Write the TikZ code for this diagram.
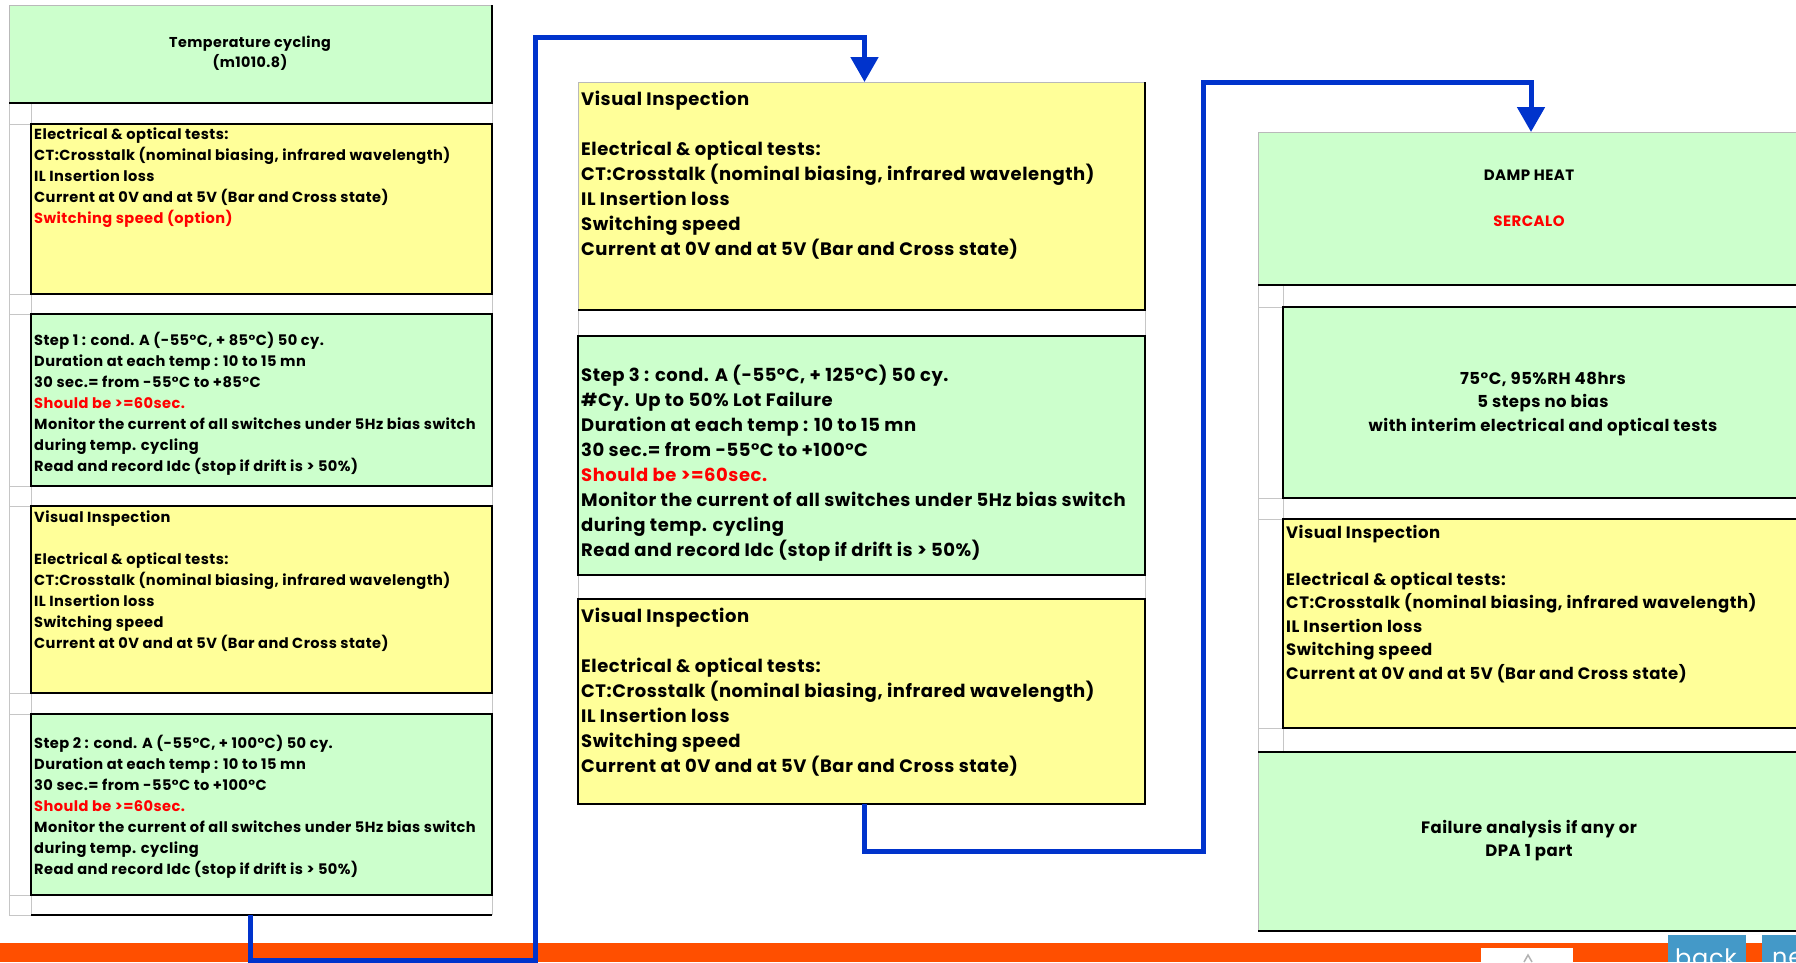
\documentclass[tikz,border=0pt]{standalone}
\usepackage{fontspec}
\setmainfont{Poppins}[LetterSpace=3]
\usepackage{xcolor}
\usetikzlibrary{arrows.meta,positioning,calc}

\definecolor{testgreen}{HTML}{CCFFCC}
\definecolor{testyellow}{HTML}{FFFF99}
\definecolor{alertred}{HTML}{FF0000}
\definecolor{linkblue}{HTML}{0033CC}
\definecolor{barorange}{HTML}{FF4F00}
\definecolor{navblue}{HTML}{4499C8}

\tikzset{
  grid/.style={draw=gray!45, line width=0.8pt},
  cell/.style={draw=gray!55, line width=0.8pt, anchor=north west, inner sep=0pt, outer sep=0pt},
  grn/.style={cell, fill=testgreen},
  ylw/.style={cell, fill=testyellow},
  inbox/.style={draw=black, line width=2.2pt},
  edge/.style={draw=black, line width=2.6pt},
  ltxt/.style={anchor=north west, align=left, inner sep=0pt, font=\bfseries\fontsize{14.6}{21}\selectfont},
  mtxt/.style={anchor=north west, align=left, inner sep=0pt, font=\bfseries\fontsize{18}{25}\selectfont},
  rtxt/.style={anchor=north west, align=left, inner sep=0pt, font=\bfseries\fontsize{16.5}{23.5}\selectfont},
  ctxt/.style={align=center, inner sep=0pt, font=\bfseries\fontsize{14.3}{20}\selectfont},
  flow/.style={draw=linkblue, line width=5pt, -{Triangle[length=25pt,width=27pt]}},
}

\begin{document}
\begin{tikzpicture}[x=1pt,y=-1pt]
    \path[use as bounding box] (0,0) rectangle (1796,962);
    \clip (0,0) rectangle (1796,962);
    % left column: temperature cycling
    \foreach \y in {103,124,294,314,486,506,693,714,895,915}
      \draw[grid] (9,\y) -- (492,\y);
    \draw[grid] (9,5) -- (9,915) (31,103) -- (31,915) (492,5) -- (492,915);
    \node[grn, minimum width=483pt, minimum height=98pt] (ttl) at (9,5) {};
    \draw[edge] (ttl.north east) -- (ttl.south east) -- (ttl.south west);
    \node[ctxt] (ttltxt) at (250,53) {Temperature cycling\\(m1010.8)};
    \node[ylw, inbox, minimum width=461pt, minimum height=170pt] (el1) at (31,124) {};
    \node[ltxt] (el1txt) at ([shift={(3,4)}]el1.north west)
      {Electrical \& optical tests:\\CT:Crosstalk (nominal biasing, infrared wavelength)\\IL Insertion loss\\
       Current at 0V and at 5V (Bar and Cross state)\\\textcolor{alertred}{Switching speed (option)}};
    \node[grn, inbox, minimum width=461pt, minimum height=172pt] (st1) at (31,314) {};
    \node[ltxt] (st1txt) at ([shift={(3,18)}]st1.north west)
      {Step 1 : cond. A (-55°C, + 85°C) 50 cy.\\Duration at each temp : 10 to 15 mn\\30 sec.= from -55°C to +85°C\\
       \textcolor{alertred}{Should be >=60sec.}\\Monitor the current of all switches under 5Hz bias switch\\
       during temp. cycling\\Read and record Idc (stop if drift is > 50\%)};
    \node[ylw, inbox, minimum width=461pt, minimum height=187pt] (vi1) at (31,506) {};
    \node[ltxt] (vi1txt) at ([shift={(3,5)}]vi1.north west)
      {Visual Inspection\\\mbox{}\\Electrical \& optical tests:\\CT:Crosstalk (nominal biasing, infrared wavelength)\\
       IL Insertion loss\\Switching speed\\Current at 0V and at 5V (Bar and Cross state)};
    \node[grn, inbox, minimum width=461pt, minimum height=181pt] (st2) at (31,714) {};
    \node[ltxt] (st2txt) at ([shift={(3,21)}]st2.north west)
      {Step 2 : cond. A (-55°C, + 100°C) 50 cy.\\Duration at each temp : 10 to 15 mn\\30 sec.= from -55°C to +100°C\\
       \textcolor{alertred}{Should be >=60sec.}\\Monitor the current of all switches under 5Hz bias switch\\
       during temp. cycling\\Read and record Idc (stop if drift is > 50\%)};
    \draw[edge] (31,915) -- (492,915);
    % middle column: step 3
    \foreach \y in {310,336,575,599}
      \draw[grid] (578,\y) -- (1145,\y);
    \draw[grid] (578,82) -- (578,804) (1145,82) -- (1145,804);
    \node[ylw, minimum width=567pt, minimum height=228pt] (vi2) at (578,82) {};
    \draw[edge] (vi2.north east) -- (vi2.south east) -- (vi2.south west);
    \node[mtxt] (vi2txt) at ([shift={(3,9)}]vi2.north west)
      {Visual Inspection\\\mbox{}\\Electrical \& optical tests:\\CT:Crosstalk (nominal biasing, infrared wavelength)\\
       IL Insertion loss\\Switching speed\\Current at 0V and at 5V (Bar and Cross state)};
    \node[grn, inbox, minimum width=567pt, minimum height=239pt] (st3) at (578,336) {};
    \node[mtxt] (st3txt) at ([shift={(3,29)}]st3.north west)
      {Step 3 : cond. A (-55°C, + 125°C) 50 cy.\\\#Cy. Up to 50\% Lot Failure\\Duration at each temp : 10 to 15 mn\\
       30 sec.= from -55°C to +100°C\\\textcolor{alertred}{Should be >=60sec.}\\
       Monitor the current of all switches under 5Hz bias switch\\during temp. cycling\\
       Read and record Idc (stop if drift is > 50\%)};
    \node[ylw, inbox, minimum width=567pt, minimum height=205pt] (vi3) at (578,599) {};
    \node[mtxt] (vi3txt) at ([shift={(3,9)}]vi3.north west)
      {Visual Inspection\\\mbox{}\\Electrical \& optical tests:\\CT:Crosstalk (nominal biasing, infrared wavelength)\\
       IL Insertion loss\\Switching speed\\Current at 0V and at 5V (Bar and Cross state)};
    % right column: damp heat
    \foreach \y in {285,307,498,519,728,752}
      \draw[grid] (1258,\y) -- (1800,\y);
    \draw[grid] (1258,132) -- (1258,931) (1283,285) -- (1283,752);
    \node[grn, minimum width=560pt, minimum height=153pt] (dh) at (1258,132) {};
    \draw[edge] (dh.south west) -- (dh.south east);
    \node[ctxt, font=\bfseries\fontsize{15}{20}\selectfont] (dhtxt) at (1529,175) {DAMP HEAT};
    \node[ctxt, font=\bfseries\fontsize{15}{20}\selectfont, text=alertred] (dhsub) at (1529,221) {SERCALO};
    \node[grn, inbox, minimum width=540pt, minimum height=191pt] (dmp) at (1283,307) {};
    \node[ctxt, font=\bfseries\fontsize{16.5}{23.5}\selectfont] (dmptxt) at (1543,404)
      {75°C, 95\%RH 48hrs\\5 steps no bias\\with interim electrical and optical tests};
    \node[ylw, inbox, minimum width=540pt, minimum height=209pt] (vi4) at (1283,519) {};
    \node[rtxt] (vi4txt) at ([shift={(3,6)}]vi4.north west)
      {Visual Inspection\\\mbox{}\\Electrical \& optical tests:\\CT:Crosstalk (nominal biasing, infrared wavelength)\\
       IL Insertion loss\\Switching speed\\Current at 0V and at 5V (Bar and Cross state)};
    \node[grn, minimum width=560pt, minimum height=179pt] (fa) at (1258,752) {};
    \draw[edge] (fa.north west) -- (fa.north east) (fa.south west) -- (fa.south east);
    \node[ctxt, font=\bfseries\fontsize{16.5}{23}\selectfont] (fatxt) at (1529,841) {Failure analysis if any or\\DPA 1 part};
    % bottom bar
    \fill[barorange] (0,943) rectangle (1796,962);
    \fill[white] (1481,948) rectangle (1573,962);
    \draw[gray!60, line width=1.5pt] (1524,962) -- (1528,955) -- (1532,962);
    \fill[navblue] (1668,935) rectangle (1746,962);
    \fill[navblue] (1762,935) rectangle (1796,962);
    \node[anchor=north west, inner sep=0pt, text=white, font=\fontsize{24}{24}\selectfont] (back) at (1675,949) {back};
    \node[anchor=north west, inner sep=0pt, text=white, font=\fontsize{24}{24}\selectfont] (next) at (1772,949) {next};
    % connectors
    \coordinate (lend) at (250,915);
    \coordinate (c1) at (535,37);
    \coordinate (c2) at (1203,82);
    \draw[flow] (lend) -- (250,960) -| (c1) -| ([xshift=3pt]vi2.north);
    \draw[flow] ([xshift=3pt]vi3.south) -- ++(0,47) -| (c2) -| ([xshift=-7pt]dh.north);
\end{tikzpicture}
\end{document}
